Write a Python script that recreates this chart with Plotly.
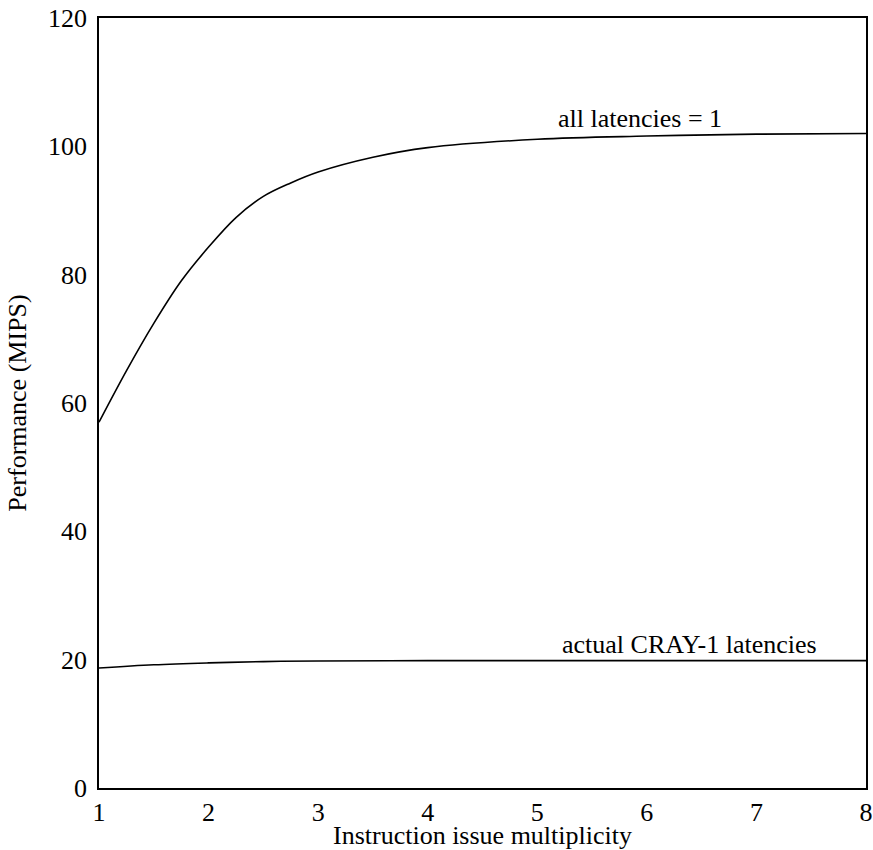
import plotly.graph_objects as go

issue = [1, 1.25, 1.5, 1.75, 2, 2.25, 2.5, 2.75, 3, 3.5, 4, 5, 6, 7, 8]
all_lat1 = [57, 65.0, 72.4, 79.0, 84.3, 88.9, 92.2, 94.3, 96.0, 98.3, 99.8, 101.1, 101.6, 101.9, 102.0]
cray_x = [1, 1.5, 2, 2.5, 3, 4, 5, 6, 7, 8]
cray1 = [18.7, 19.2, 19.5, 19.7, 19.8, 19.85, 19.85, 19.85, 19.85, 19.85]

x_ticks = [1, 2, 3, 4, 5, 6, 7, 8]
y_ticks = [0, 20, 40, 60, 80, 100, 120]

font = dict(family="Liberation Serif, Times New Roman, serif", size=26, color="black")

fig = go.Figure()
fig.add_trace(go.Scatter(x=issue, y=all_lat1, mode="lines",
                         line=dict(color="black", width=1.6, shape="spline", smoothing=1.0),
                         showlegend=False, hoverinfo="skip"))
fig.add_trace(go.Scatter(x=cray_x, y=cray1, mode="lines",
                         line=dict(color="black", width=1.6, shape="spline", smoothing=1.0),
                         showlegend=False, hoverinfo="skip"))

fig.add_annotation(x=5.94, y=104.4, text="all latencies = 1", showarrow=False,
                   font=font, xanchor="center", yanchor="middle")
fig.add_annotation(x=6.39, y=22.3, text="actual CRAY-1 latencies", showarrow=False,
                   font=font, xanchor="center", yanchor="middle")

fig.update_xaxes(range=[1, 8], tickvals=x_ticks, ticks="", showgrid=False, zeroline=False,
                 showline=True, linecolor="black", linewidth=1.5, mirror=True,
                 tickfont=font, ticklabelstandoff=0,
                 title=dict(text="Instruction issue multiplicity", font=font, standoff=0))
fig.update_yaxes(range=[0, 120], tickvals=y_ticks, ticks="", showgrid=False, zeroline=False,
                 showline=True, linecolor="black", linewidth=1.5, mirror=True,
                 tickfont=font, ticklabelstandoff=5,
                 title=dict(text="Performance (MIPS)", font=font, standoff=14))

fig.update_layout(width=873, height=850, plot_bgcolor="white", paper_bgcolor="white",
                  margin=dict(l=99, r=7, t=18, b=62, autoexpand=False), font=font)

fig.write_html("out.html", config={"displayModeBar": False},
               post_script="document.body.style.margin='0';document.body.style.overflow='hidden';")
